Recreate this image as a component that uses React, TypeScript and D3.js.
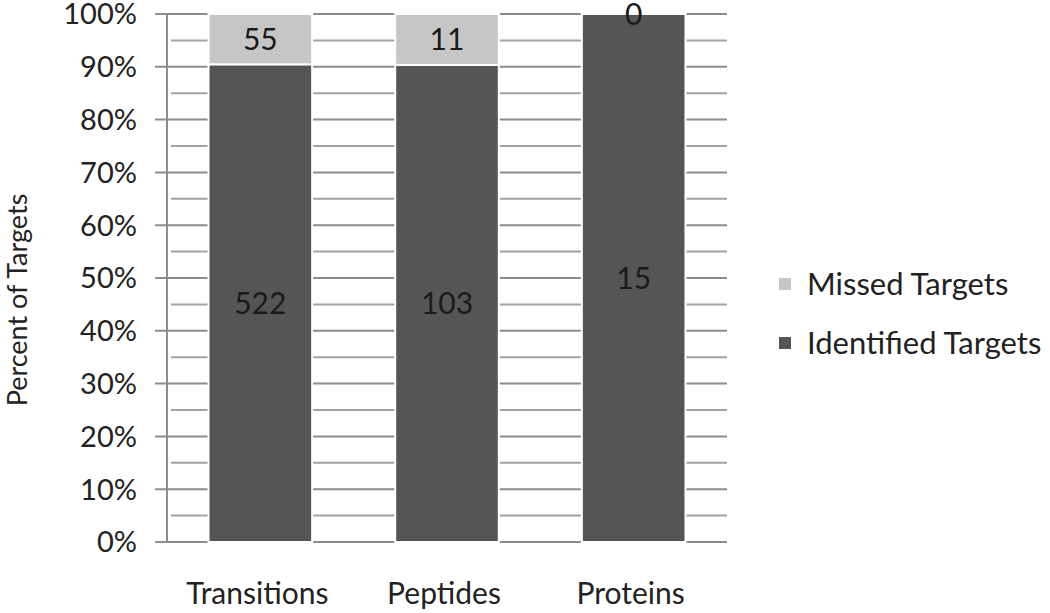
import React from "react";
import * as d3 from "d3";

const categories = ["Transitions", "Peptides", "Proteins"];
const identified = [522, 103, 15];
const missed = [55, 11, 0];
const seriesNames = ["Missed Targets", "Identified Targets"];
const yTicks = [0, 10, 20, 30, 40, 50, 60, 70, 80, 90, 100];
const minorTicks = [5, 15, 25, 35, 45, 55, 65, 75, 85, 95];

const W = 1050, H = 613;
const left = 167, right = 727, top = 14, bottom = 542;
const FONT = "Lato, 'Open Sans', sans-serif";
const DARK = "#555555";
const LIGHT = "#c6c6c6";
const GRID = "#8c8c8c";

export default function App() {
  const x = d3.scaleBand().domain(categories).range([left, right]).paddingInner(0.445).paddingOuter(0.2225);
  const y = d3.scaleLinear().domain([0, 100]).range([bottom, top]);
  const barW = x.bandwidth();

  return (
    <svg width={W} height={H} style={{ position: "absolute", left: 0, top: 0, background: "#fff" }} fontFamily={FONT}>
      {minorTicks.map((t) => (
        <line key={"m" + t} x1={left + 4} x2={right} y1={y(t)} y2={y(t)} stroke={GRID} strokeWidth={2} opacity={0.8} />
      ))}
      {yTicks.map((t) => (
        <line key={"g" + t} x1={left - 12} x2={right} y1={y(t)} y2={y(t)} stroke={GRID} strokeWidth={2} />
      ))}
      <line x1={left} x2={left} y1={top} y2={bottom} stroke={GRID} strokeWidth={2} />
      {yTicks.map((t) => (
        <text key={"t" + t} x={137} y={y(t)} dy="0.36em" textAnchor="end" fontSize={29} fill="#222">
          {t + "%"}
        </text>
      ))}
      <text transform={`translate(27,${300}) rotate(-90)`} textAnchor="middle" fontSize={27} fill="#222">
        Percent of Targets
      </text>
      {categories.map((c, i) => {
        const total = identified[i] + missed[i];
        const pId = (identified[i] / total) * 100;
        const x0 = x(c)!;
        const cx = x0 + barW / 2;
        return (
          <g key={c}>
            <rect x={x0} y={y(pId)} width={barW} height={y(0) - y(pId)} fill={DARK} stroke="#fff" strokeWidth={2} />
            <rect x={x0} y={y(100)} width={barW} height={y(pId) - y(100)} fill={LIGHT} stroke="#fff" strokeWidth={2} />
            <text x={cx} y={y(pId / 2)} dy="0.36em" textAnchor="middle" fontSize={30} fill="#1a1a1a">
              {identified[i]}
            </text>
            <text x={cx} y={y((pId + 100) / 2)} dy="0.36em" textAnchor="middle" fontSize={30} fill="#1a1a1a">
              {missed[i]}
            </text>
            <text x={cx - 3} y={593} dy="0.36em" textAnchor="middle" fontSize={30} fill="#222">
              {c}
            </text>
          </g>
        );
      })}
      {seriesNames.map((s, i) => (
        <g key={s} transform={`translate(779,${284 + i * 59})`}>
          <rect x={0} y={-6} width={12} height={12} fill={i === 0 ? LIGHT : DARK} />
          <text x={28} y={0} dy="0.36em" fontSize={31} fill="#222">
            {s}
          </text>
        </g>
      ))}
    </svg>
  );
}
